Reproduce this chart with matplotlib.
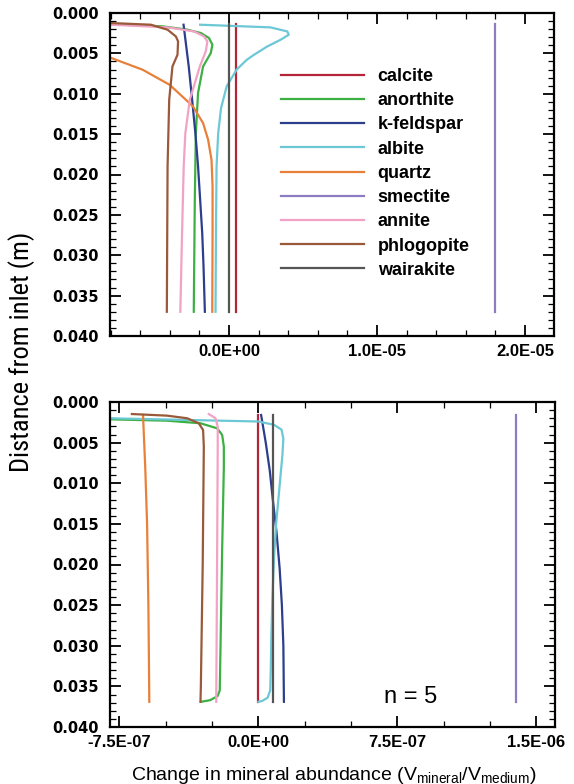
import numpy as np
import matplotlib
matplotlib.use("Agg")
import matplotlib.pyplot as plt
from matplotlib.ticker import MultipleLocator, FuncFormatter
from matplotlib import font_manager

names = ['calcite', 'anorthite', 'k-feldspar', 'albite', 'quartz',
         'smectite', 'annite', 'phlogopite', 'wairakite']
colors = ['#b5253a', '#3cb043', '#2c3e8c', '#6cc8d4', '#e8803a',
          '#8e7cc3', '#f2a2c4', '#9a5a3a', '#555555']

# top panel, x in units of 1e-5, depth in m
top_x = {
    'calcite':    [0.045, 0.045],
    'anorthite':  [-0.80, -0.45, -0.28, -0.19, -0.135, -0.112, -0.123, -0.175, -0.209, -0.224, -0.231, -0.238],
    'k-feldspar': [-0.307, -0.272, -0.249, -0.227, -0.209, -0.195, -0.181, -0.172, -0.163],
    'albite':     [-0.195, 0.28, 0.394, 0.404, 0.349, 0.259, 0.169, 0.12, 0.052, -0.016, -0.054, -0.073, -0.084, -0.088, -0.091],
    'quartz':     [-0.82, -0.583, -0.401, -0.243, -0.175, -0.141, -0.118, -0.111, -0.111, -0.113],
    'smectite':   [1.798, 1.798],
    'annite':     [-0.80, -0.415, -0.236, -0.169, -0.146, -0.157, -0.197, -0.265, -0.295, -0.306, -0.317, -0.329],
    'phlogopite': [-0.80, -0.528, -0.415, -0.359, -0.344, -0.348, -0.382, -0.404, -0.415, -0.42],
    'wairakite':  [0.0, 0.0],
}
top_y = {
    'calcite':    [0.0014, 0.0370],
    'anorthite':  [0.0014, 0.00165, 0.00207, 0.00248, 0.0031, 0.00393, 0.00496, 0.00662, 0.0099, 0.0149, 0.0231, 0.0370],
    'k-feldspar': [0.00145, 0.00662, 0.01075, 0.0149, 0.0190, 0.0231, 0.0272, 0.0314, 0.0370],
    'albite':     [0.00145, 0.00178, 0.00228, 0.00269, 0.00331, 0.00414, 0.00517, 0.0058, 0.0070, 0.0091, 0.0118, 0.0149, 0.0190, 0.0272, 0.0370],
    'quartz':     [0.00540, 0.00703, 0.00889, 0.01157, 0.01364, 0.0157, 0.0182, 0.0215, 0.0273, 0.0370],
    'smectite':   [0.0014, 0.0370],
    'annite':     [0.00145, 0.00178, 0.00228, 0.0029, 0.00352, 0.00476, 0.00662, 0.01075, 0.0149, 0.0190, 0.0272, 0.0370],
    'phlogopite': [0.00124, 0.00145, 0.00207, 0.0029, 0.00352, 0.00517, 0.00662, 0.01075, 0.0190, 0.0370],
    'wairakite':  [0.0014, 0.0370],
}

# bottom panel (n = 5), x in units of 1e-7
bot_x = {
    'calcite':    [0.0, 0.0],
    'anorthite':  [-8.1, -4.92, -3.12, -2.22, -1.95, -1.86, -1.86, -1.95, -2.08, -2.2, -2.6, -3.1],
    'k-feldspar': [0.15, 0.40, 0.62, 0.78, 0.98, 1.15, 1.27, 1.35, 1.38],
    'albite':     [-8.1, -4.0, 0.0, 0.84, 1.25, 1.35, 1.30, 1.20, 1.08, 0.96, 0.85, 0.76, 0.70, 0.67, 0.64, 0.50, 0.2, 0.0],
    'quartz':     [-6.22, -6.1, -6.0, -5.93, -5.88],
    'smectite':   [13.92, 13.92],
    'annite':     [-2.67, -2.31, -2.19, -2.19, -2.22, -2.27],
    'phlogopite': [-6.82, -4.92, -3.84, -3.21, -2.98, -2.94, -2.95, -3.0, -3.1, -3.12],
    'wairakite':  [0.79, 0.79],
}
bot_y = {
    'calcite':    [0.0016, 0.0369],
    'anorthite':  [0.00213, 0.0023, 0.00262, 0.00324, 0.00406, 0.0055, 0.008, 0.018, 0.0355, 0.0362, 0.0367, 0.0369],
    'k-feldspar': [0.0016, 0.0050, 0.0085, 0.0120, 0.0160, 0.0205, 0.0250, 0.0300, 0.0369],
    'albite':     [0.0020, 0.0022, 0.0024, 0.0028, 0.0034, 0.0045, 0.0065, 0.0090, 0.0120, 0.0150, 0.0190, 0.0240, 0.0290, 0.0330, 0.0355, 0.0364, 0.0368, 0.0369],
    'quartz':     [0.0016, 0.008, 0.015, 0.025, 0.0369],
    'smectite':   [0.0016, 0.0369],
    'annite':     [0.00148, 0.0020, 0.00304, 0.0055, 0.018, 0.0369],
    'phlogopite': [0.00148, 0.00168, 0.0020, 0.00262, 0.00345, 0.0055, 0.008, 0.020, 0.035, 0.0369],
    'wairakite':  [0.0016, 0.0369],
}

available = {f.name for f in font_manager.fontManager.ttflist}
narrow = 'DejaVu Sans'
for cand in ['Liberation Sans Narrow', 'DejaVu Sans Condensed', 'Roboto Condensed']:
    if cand in available:
        narrow = cand
        break

plt.rcParams['font.family'] = ['Liberation Sans', 'DejaVu Sans']

fig = plt.figure(figsize=(5.74, 7.84), dpi=100)
ax1 = fig.add_axes([110/574, 1-336/784, 444/574, 323/784])
ax2 = fig.add_axes([110/574, 1-727/784, 445/574, 325/784])

sci = FuncFormatter(lambda v, p: f"{v:.1E}")

for name, c in zip(names, colors):
    ax1.plot(np.array(top_x[name])*1e-5, top_y[name], color=c, lw=1.6, label=name)
    ax2.plot(np.array(bot_x[name])*1e-7, bot_y[name], color=c, lw=1.6)

ax1.set_xlim(-0.804e-5, 2.196e-5)
ax2.set_xlim(-8.0e-7, 1.6e-6)
ax1.xaxis.set_major_locator(MultipleLocator(1e-5))
ax1.xaxis.set_minor_locator(MultipleLocator(2e-6))
ax2.xaxis.set_major_locator(MultipleLocator(7.5e-7))
ax2.xaxis.set_minor_locator(MultipleLocator(2.5e-7))

for ax in (ax1, ax2):
    ax.set_ylim(0.040, 0.000)
    ax.yaxis.set_major_locator(MultipleLocator(0.005))
    ax.yaxis.set_minor_locator(MultipleLocator(0.001))
    ax.yaxis.set_major_formatter(FuncFormatter(lambda v, p: f"{v:.3f}"))
    ax.xaxis.set_major_formatter(sci)
    ax.tick_params(which='both', direction='in', top=True, right=True, width=1.3)
    ax.tick_params(which='major', length=8)
    ax.tick_params(which='minor', length=4, width=0.9)
    ax.tick_params(axis='y', pad=8, labelsize=10.5)
    ax.tick_params(axis='x', pad=6, labelsize=12)

fig.canvas.draw()
for ax in (ax1, ax2):
    for t in ax.get_xticklabels():
        t.set_fontweight('bold')
    for t in ax.get_yticklabels():
        t.set_family('DejaVu Sans')
        t.set_fontweight('bold')
    for s in ax.spines.values():
        s.set_linewidth(1.6)

leg = ax1.legend(loc='upper left', bbox_to_anchor=(281/574, 1-68/784),
                 bbox_transform=fig.transFigure, frameon=False,
                 prop={'weight': 'bold', 'size': 13}, handlelength=4.6,
                 handletextpad=0.75, labelspacing=0.40, borderpad=0,
                 borderaxespad=0)

ax2.text(0.676, 0.093, 'n = 5', transform=ax2.transAxes, fontsize=17,
         ha='center', va='center')

fig.text(334/574, 1-775/784,
         r'Change in mineral abundance (V$_{\mathregular{mineral}}$/V$_{\mathregular{medium}}$)',
         ha='center', va='center', fontsize=14)
fig.text(22/574, 1-352/784, 'Distance from inlet (m)', rotation=90,
         ha='center', va='center', fontsize=19, family=narrow)

fig.savefig('out.png', dpi=100)
